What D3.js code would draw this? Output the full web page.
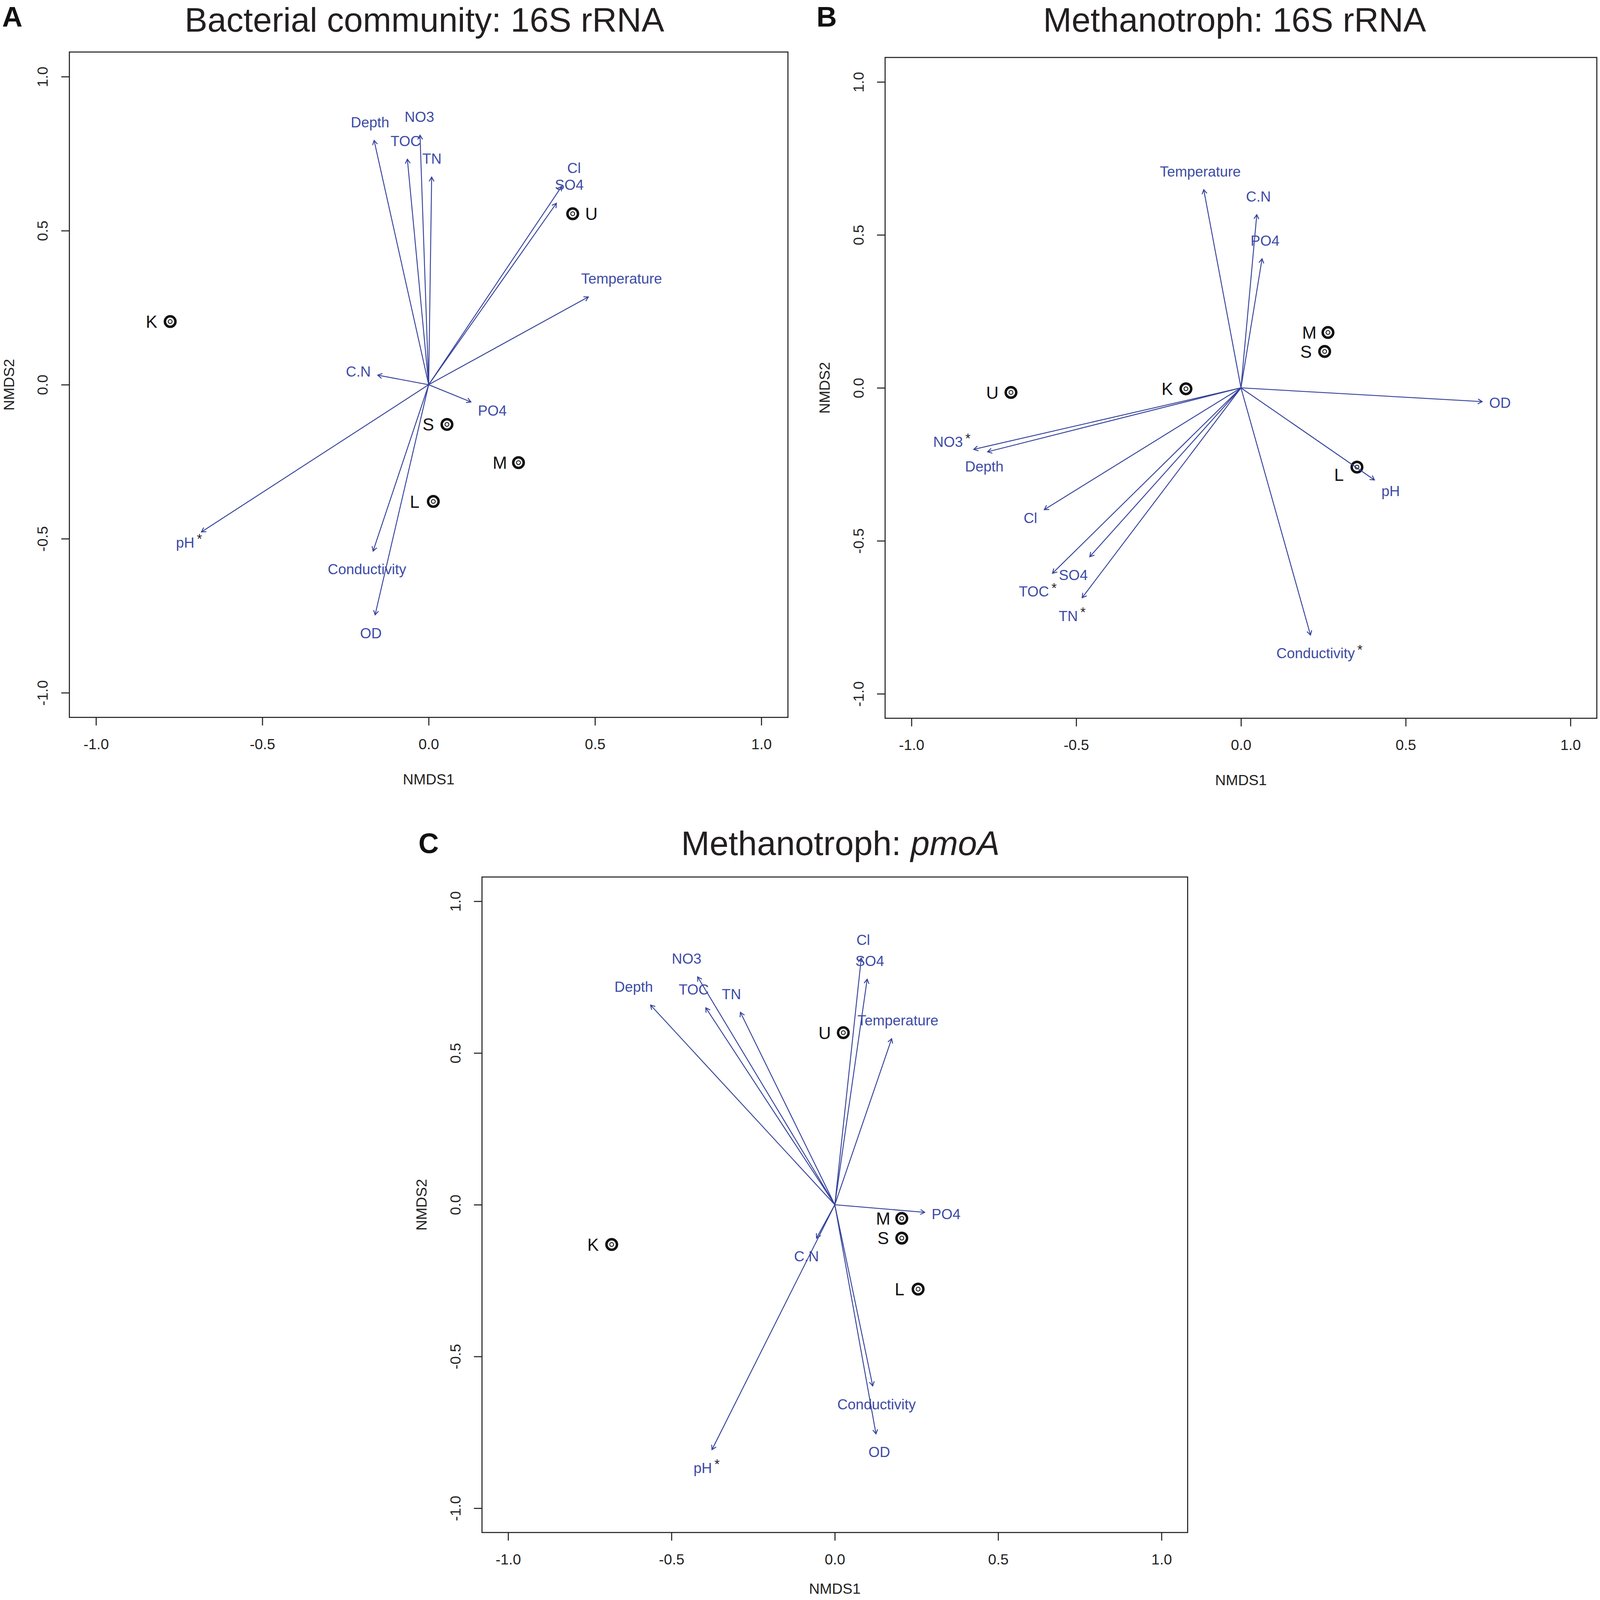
<!DOCTYPE html>
<html><head><meta charset="utf-8">
<script src="https://cdn.jsdelivr.net/npm/d3@7"></script>
<style>html,body{margin:0;padding:0;background:#fff;width:100%;height:100%;overflow:hidden}
#chart{display:block;width:100vw;height:100vh}</style>
</head><body>
<svg id="chart" viewBox="0 0 4550 4550" preserveAspectRatio="none" xmlns="http://www.w3.org/2000/svg"></svg>
<script>
// ---------------- DATA ----------------
const envVars = ["Depth","NO3","TOC","TN","Cl","SO4","Temperature","C.N","PO4","pH","Conductivity","OD"];
const vecA_NMDS1 = [-0.164,-0.026,-0.064,0.009,0.400,0.384,0.480,-0.153,0.127,-0.683,-0.167,-0.161];
const vecA_NMDS2 = [0.793,0.810,0.732,0.674,0.644,0.589,0.285,0.031,-0.056,-0.478,-0.540,-0.747];
const sigA = ["pH"];
const vecB_NMDS1 = [-0.769,-0.811,-0.572,-0.482,-0.597,-0.459,-0.113,0.048,0.064,0.405,0.211,0.732];
const vecB_NMDS2 = [-0.209,-0.201,-0.606,-0.686,-0.398,-0.552,0.648,0.566,0.422,-0.301,-0.808,-0.045];
const sigB = ["NO3","TOC","TN","Conductivity"];
const vecC_NMDS1 = [-0.564,-0.420,-0.395,-0.289,0.081,0.099,0.174,-0.056,0.275,-0.376,0.116,0.126];
const vecC_NMDS2 = [0.658,0.751,0.649,0.634,0.813,0.743,0.547,-0.110,-0.025,-0.807,-0.597,-0.755];
const sigC = ["pH"];
const sites = ["K","U","S","M","L"];
const siteA_NMDS1 = [-0.777,0.433,0.055,0.270,0.014];
const siteA_NMDS2 = [0.205,0.555,-0.129,-0.253,-0.379];
const siteB_NMDS1 = [-0.167,-0.698,0.254,0.264,0.352];
const siteB_NMDS2 = [-0.003,-0.015,0.119,0.181,-0.259];
const siteC_NMDS1 = [-0.683,0.026,0.205,0.205,0.255];
const siteC_NMDS2 = [-0.131,0.567,-0.110,-0.045,-0.278];
// manually placed vector labels in panel B (data units)
const manualLabelB = {"NO3":[-0.889,-0.177],"Depth":[-0.779,-0.257]};
const tickValues = [-1.0,-0.5,0.0,0.5,1.0];
const tickLabels = ["-1.0","-0.5","0.0","0.5","1.0"];
const panelLetters = ["A","B","C"];
const panelTitles = ["Bacterial community: 16S rRNA","Methanotroph: 16S rRNA","Methanotroph: "];
const panelTitleItalic = ["","","pmoA"];
const axisTitles = ["NMDS1","NMDS2"];

// ---------------- LAYOUT ----------------
const FONT = "'Liberation Sans', Arial, Helvetica, sans-serif";
const ARROW = "#34419a", VTEXT = "#3d4ba6", INK = "#222";
const layout = [
  {cx:1219, cy:1094, ux:946, uy:876, titleX:1207, titleY:90, letterX:6, letterY:75, xTitleOff:176, sides:{U:"right"}, manual:{}},
  {cx:3529, cy:1103, ux:937, uy:870, titleX:3511, titleY:90, letterX:2322, letterY:75, xTitleOff:176, sides:{L:"belowleft"}, manual:manualLabelB},
  {cx:2374, cy:3426, ux:929, uy:863, titleX:2390, titleY:2432, letterX:1190, letterY:2426, xTitleOff:160, sides:{}, manual:{}}
];

const svg = d3.select("#chart");
svg.append("rect").attr("width",4550).attr("height",4550).attr("fill","#fff");

function drawPanel(i, vx, vy, sig, sx, sy) {
  const L = layout[i];
  const ext = 1.08;
  const x = d3.scaleLinear().domain([-ext, ext]).range([L.cx - ext*L.ux, L.cx + ext*L.ux]);
  const y = d3.scaleLinear().domain([-ext, ext]).range([L.cy + ext*L.uy, L.cy - ext*L.uy]);
  const g = svg.append("g");
  const [x0, x1] = x.range(), [yb, yt] = y.range();

  // titles
  const t = g.append("text").attr("x", L.titleX).attr("y", L.titleY).attr("text-anchor","middle")
    .attr("font-family", FONT).attr("font-size", 97).attr("fill", "#231f20").text(panelTitles[i]);
  if (panelTitleItalic[i]) t.append("tspan").attr("font-style","italic").text(panelTitleItalic[i]);
  g.append("text").attr("x", L.letterX).attr("y", L.letterY).attr("font-family", FONT)
    .attr("font-weight","bold").attr("font-size", 80).attr("fill","#111").text(panelLetters[i]);

  // box
  g.append("rect").attr("x", x0).attr("y", yt).attr("width", x1 - x0).attr("height", yb - yt)
    .attr("fill","none").attr("stroke", INK).attr("stroke-width", 3);

  // x axis
  const xa = g.append("g").attr("transform", `translate(0,${yb})`)
    .call(d3.axisBottom(x).tickValues(tickValues).tickFormat((d, j) => tickLabels[j]).tickSize(23));
  xa.attr("font-family", FONT).attr("font-size", 42);
  xa.select(".domain").remove();
  xa.selectAll(".tick line").attr("stroke", INK).attr("stroke-width", 3);
  xa.selectAll(".tick text").attr("fill", INK).attr("y", 76).attr("dy", "0.35em");

  // y axis
  const ya = g.append("g").attr("transform", `translate(${x0},0)`)
    .call(d3.axisLeft(y).tickValues(tickValues).tickFormat((d, j) => tickLabels[j]).tickSize(23));
  ya.attr("font-family", FONT).attr("font-size", 42);
  ya.select(".domain").remove();
  ya.selectAll(".tick line").attr("stroke", INK).attr("stroke-width", 3);
  ya.selectAll(".tick text").attr("fill", INK).attr("x", 0).attr("y", -76).attr("dy", "0.35em")
    .attr("text-anchor", "middle").attr("transform", "rotate(-90)");

  // axis titles
  g.append("text").attr("x", (x0 + x1) / 2).attr("y", yb + L.xTitleOff).attr("dy", "0.35em")
    .attr("text-anchor","middle").attr("font-family", FONT).attr("font-size", 42).attr("fill", INK).text(axisTitles[0]);
  g.append("text").attr("transform", `translate(${x0 - 172},${(yb + yt) / 2}) rotate(-90)`).attr("dy", "0.35em")
    .attr("text-anchor","middle").attr("font-family", FONT).attr("font-size", 42).attr("fill", INK).text(axisTitles[1]);

  // site points
  const ox = x(0), oy = y(0);
  sites.forEach((s, j) => {
    const px = x(sx[j]), py = y(sy[j]);
    g.append("circle").attr("cx", px).attr("cy", py).attr("r", 15).attr("fill", "none").attr("stroke", "#111").attr("stroke-width", 7);
    g.append("circle").attr("cx", px).attr("cy", py).attr("r", 5.5).attr("fill", "none").attr("stroke", "#111").attr("stroke-width", 2.5);
    const side = L.sides[s] || "left";
    let lx = px - 53, ly = py;
    if (side === "right") lx = px + 53;
    if (side === "belowleft") { lx = px - 51; ly = py + 22; }
    g.append("text").attr("x", lx).attr("y", ly).attr("dy", "0.36em").attr("text-anchor", "middle")
      .attr("font-family", FONT).attr("font-size", 49).attr("fill", "#111").text(s);
  });

  // vectors
  const headLen = 14, headAng = Math.PI / 6;
  envVars.forEach((name, j) => {
    const tx = x(vx[j]), ty = y(vy[j]);
    g.append("line").attr("x1", ox).attr("y1", oy).attr("x2", tx).attr("y2", ty)
      .attr("stroke", ARROW).attr("stroke-width", 2.6);
    const a = Math.atan2(ty - oy, tx - ox);
    const h1 = [tx - headLen * Math.cos(a - headAng), ty - headLen * Math.sin(a - headAng)];
    const h2 = [tx - headLen * Math.cos(a + headAng), ty - headLen * Math.sin(a + headAng)];
    g.append("path").attr("d", `M${h1[0]},${h1[1]}L${tx},${ty}L${h2[0]},${h2[1]}`)
      .attr("fill", "none").attr("stroke", ARROW).attr("stroke-width", 2.6);

    const lbl = g.append("text").attr("text-anchor", "middle").attr("dy", "0.35em")
      .attr("font-family", FONT).attr("font-size", 41).attr("fill", VTEXT).text(name);
    const w = lbl.node().getComputedTextLength();
    let cxl, cyl;
    if (L.manual[name]) {
      cxl = x(L.manual[name][0]); cyl = y(L.manual[name][1]);
    } else {
      const len = Math.hypot(tx - ox, ty - oy);
      const ux = (tx - ox) / len, uy = (ty - oy) / len;
      const sx_ = Math.abs(ux) > 1e-6 ? (w / 2 + 20) / Math.abs(ux) : Infinity;
      const sy_ = Math.abs(uy) > 1e-6 ? 52 / Math.abs(uy) : Infinity;
      const tt = Math.min(sx_, sy_);
      cxl = tx + ux * tt; cyl = ty + uy * tt;
    }
    lbl.attr("x", cxl).attr("y", cyl);
    if (sig.includes(name)) {
      g.append("text").attr("x", cxl + w / 2 + 7).attr("y", cyl).attr("dy", "0.07em")
        .attr("font-family", FONT).attr("font-size", 38).attr("fill", "#222").text("*");
    }
  });
}

drawPanel(0, vecA_NMDS1, vecA_NMDS2, sigA, siteA_NMDS1, siteA_NMDS2);
drawPanel(1, vecB_NMDS1, vecB_NMDS2, sigB, siteB_NMDS1, siteB_NMDS2);
drawPanel(2, vecC_NMDS1, vecC_NMDS2, sigC, siteC_NMDS1, siteC_NMDS2);
</script>
</body></html>
